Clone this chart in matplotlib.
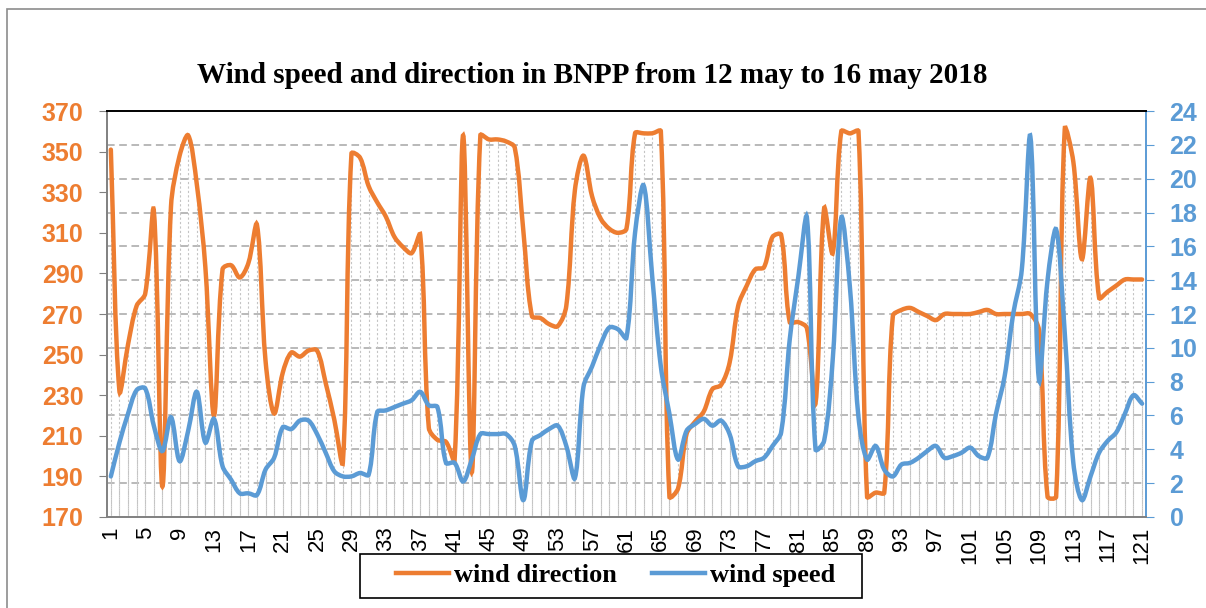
import matplotlib
matplotlib.use("Agg")
import matplotlib.pyplot as plt
import numpy as np
from matplotlib.path import Path
from matplotlib.patches import PathPatch, Rectangle
from matplotlib.lines import Line2D
from matplotlib.transforms import blended_transform_factory

# hourly samples 1..121
samples = list(range(1, 122))

direction = [
    351, 232, 255, 274, 280, 321, 185, 323, 348, 358,
    334, 293, 220, 292, 294, 288, 295, 314, 247, 221,
    241, 251, 249, 252, 252, 236, 218, 197, 349, 347,
    333, 325, 318, 308, 303, 300, 309, 214, 208, 207,
    198, 358, 192, 358, 356, 356, 355, 352, 311, 269,
    268, 265, 264, 274, 331, 348, 328, 317, 312, 310,
    312, 359, 359, 359, 360, 180, 184, 211, 217, 222,
    233, 235, 246, 274, 284, 292, 293, 308, 309, 266,
    266, 263, 226, 322, 300, 360, 359, 360, 180, 182,
    182, 269, 272, 273, 271, 269, 267, 270, 270, 270,
    270, 271, 272, 270, 270, 270, 270, 270, 262, 180,
    180, 361, 345, 297, 337, 278, 281, 284, 287, 287, 287,
]

speed = [
    2.4, 4.4, 6.1, 7.5, 7.6, 5.4, 3.9, 5.9, 3.3, 5.1,
    7.4, 4.4, 5.8, 3.0, 2.2, 1.4, 1.4, 1.3, 2.8, 3.5,
    5.3, 5.2, 5.7, 5.7, 4.9, 3.8, 2.7, 2.4, 2.4, 2.6,
    2.5, 6.2, 6.3, 6.5, 6.7, 6.9, 7.4, 6.6, 6.5, 3.2,
    3.2, 2.1, 3.4, 4.9, 4.9, 4.9, 4.9, 4.2, 1.0, 4.5,
    4.85, 5.2, 5.4, 4.2, 2.3, 7.7, 8.9, 10.2, 11.2, 11.1,
    10.6, 16.8, 19.6, 14.2, 8.9, 6.1, 3.4, 5.1, 5.5, 5.8,
    5.4, 5.7, 4.9, 3.0, 3.0, 3.3, 3.5, 4.2, 5.0, 10.5,
    14.2, 17.7, 4.0, 4.5, 9.3, 17.7, 13.6, 5.9, 3.4, 4.2,
    2.8, 2.4, 3.1, 3.2, 3.5, 3.9, 4.2, 3.5, 3.6, 3.8,
    4.1, 3.6, 3.5, 6.1, 8.3, 12.0, 14.6, 22.5, 8.1, 14.0,
    17.0, 10.9, 3.2, 1.0, 2.4, 3.8, 4.5, 5.0, 6.1, 7.2, 6.7,
]

x_labels = samples[::4]
dir_ticks = list(range(170, 371, 20))
speed_ticks = list(range(0, 25, 2))

ORANGE = "#ED7D31"
BLUE = "#5B9BD5"


def smooth_path(axis, xs, ys, tension=1 / 3):
    # excel style smoothing: bezier handles scaled by chord lengths in pixels
    pts = axis.transData.transform(np.column_stack([xs, ys]))
    n = len(pts)
    verts = [pts[0]]
    for i in range(n - 1):
        p0 = pts[i - 1] if i > 0 else pts[i]
        p1 = pts[i]
        p2 = pts[i + 1]
        p3 = pts[i + 2] if i + 2 < n else pts[i + 1]
        d01 = np.hypot(*(p1 - p0))
        d12 = np.hypot(*(p2 - p1))
        d23 = np.hypot(*(p3 - p2))
        f1 = tension * d12 / (d01 + d12) if d01 + d12 > 0 else 0
        f2 = tension * d12 / (d12 + d23) if d12 + d23 > 0 else 0
        verts += [p1 + (p2 - p0) * f1, p2 - (p3 - p1) * f2, p2]
    verts = axis.transData.inverted().transform(np.array(verts))
    codes = [Path.MOVETO] + [Path.CURVE4] * (len(verts) - 1)
    return Path(verts, codes)


fig = plt.figure(figsize=(12.06, 6.08), dpi=100)
ax = fig.add_axes([0.0887, 0.1497, 0.8615, 0.6677])
ax2 = ax.twinx()

ax.set_xlim(0.55, 121.45)
ax.set_ylim(170, 370)
ax2.set_ylim(0, 24)

# horizontal gridlines belong to the speed axis
grid_tr = blended_transform_factory(ax.transAxes, ax2.transData)
for v in speed_ticks[1:-1]:
    ax.plot([0, 1], [v, v], transform=grid_tr, color="#A6A6A6",
            lw=1.1, ls=(0, (5, 3)), zorder=0)

# drop lines for both series
ax.vlines(samples, 170, direction, color="#C4C4C4", lw=0.8,
          linestyles=[(0, (2, 2))], zorder=0.5)
ax.vlines(samples, 0, speed, color="#C4C4C4", lw=0.8,
          linestyles=[(2, (2, 2))], zorder=0.5, transform=ax2.transData)

ax.add_patch(PathPatch(smooth_path(ax, samples, direction), facecolor="none",
                       edgecolor=ORANGE, lw=3.2, zorder=2, capstyle="round"))
ax2.add_patch(PathPatch(smooth_path(ax2, samples, speed), facecolor="none",
                        edgecolor=BLUE, lw=3.2, zorder=2, capstyle="round"))

# axes styling
ax.set_yticks(dir_ticks)
ax.set_yticklabels([str(t) for t in dir_ticks], color=ORANGE,
                   fontsize=18, fontweight="bold", family="Liberation Sans")
ax2.set_yticks(speed_ticks)
ax2.set_yticklabels([str(t) for t in speed_ticks], color=BLUE,
                    fontsize=18, fontweight="bold", family="Liberation Sans")
ax.tick_params(axis="y", length=6, color="#808080", pad=11)
ax2.tick_params(axis="y", length=6, color=BLUE, pad=11)

ax.set_xticks(x_labels)
ax.set_xticklabels([str(t) for t in x_labels], rotation=90, fontsize=16,
                   family="Liberation Sans", va="top", ha="center")
ax.tick_params(axis="x", length=0, pad=7)

for s in ("top", "bottom", "left", "right"):
    ax.spines[s].set_visible(False)
ax2.spines["top"].set_color("black")
ax2.spines["top"].set_linewidth(1.4)
ax2.spines["left"].set_color("#808080")
ax2.spines["left"].set_linewidth(1.4)
ax2.spines["bottom"].set_color("#808080")
ax2.spines["bottom"].set_linewidth(1.4)
ax2.spines["right"].set_color(BLUE)
ax2.spines["right"].set_linewidth(1.4)

fig.text(0.4913, 1 - 83 / 608, "Wind speed and direction in BNPP from 12 may to 16 may 2018",
         ha="center", va="baseline", fontsize=21, fontweight="bold",
         family="Liberation Serif")

handles = [Line2D([], [], color=ORANGE, lw=3.2),
           Line2D([], [], color=BLUE, lw=3.2)]
fig.legend(handles, ["wind direction", "wind speed"], loc="center",
           bbox_to_anchor=(615.5 / 1206, 1 - 575 / 608), ncol=2, frameon=False,
           handlelength=2.0, handletextpad=0.2, columnspacing=1.33,
           prop={"family": "Liberation Serif", "weight": "bold", "size": 19})
# legend box
fig.patches.append(Rectangle((360 / 1206, 1 - 598 / 608), 502 / 1206, 44 / 608,
                             transform=fig.transFigure, fill=False,
                             edgecolor="black", lw=1.2))

# outer chart border
fig.patches.append(Rectangle((7 / 1206, -0.1), 1.2, 1.1 - 9.5 / 608,
                             transform=fig.transFigure, fill=False,
                             edgecolor="#8C8C8C", lw=1.2))

fig.savefig("out.png", dpi=100)
